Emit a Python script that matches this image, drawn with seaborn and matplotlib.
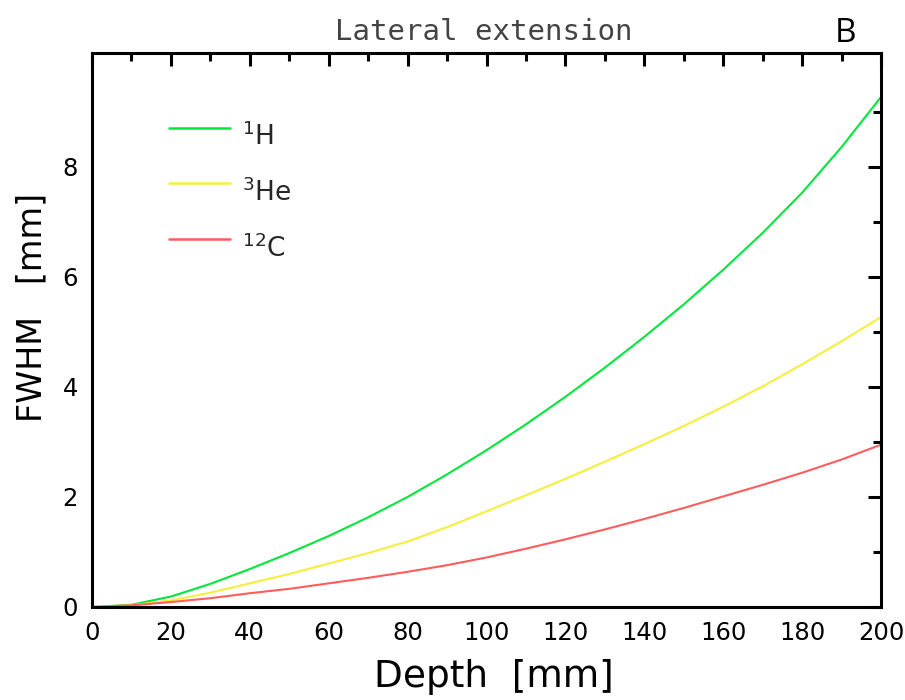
import numpy as np
import pandas as pd
import matplotlib
matplotlib.use("Agg")
import matplotlib.pyplot as plt
from matplotlib.ticker import MultipleLocator, FixedLocator
from matplotlib.lines import Line2D
import seaborn as sns

# Depth grid [mm] and lateral FWHM [mm] for each ion species
depth = [0, 10, 20, 30, 40, 50, 60, 70, 80, 90, 100,
         110, 120, 130, 140, 150, 160, 170, 180, 190, 200]
fwhm_h1 = [0.0, 0.04, 0.19, 0.42, 0.69, 0.98, 1.29, 1.63, 2.00, 2.41, 2.85,
           3.32, 3.82, 4.35, 4.91, 5.50, 6.13, 6.80, 7.53, 8.36, 9.27]
fwhm_he3 = [0.0, 0.03, 0.12, 0.26, 0.43, 0.60, 0.79, 0.98, 1.19, 1.45, 1.74,
            2.03, 2.33, 2.64, 2.96, 3.29, 3.64, 4.01, 4.41, 4.83, 5.27]
fwhm_c12 = [0.0, 0.03, 0.09, 0.16, 0.25, 0.33, 0.43, 0.53, 0.64, 0.76, 0.90,
            1.06, 1.23, 1.41, 1.60, 1.80, 2.01, 2.22, 2.44, 2.68, 2.95]

ions = ["1H", "3He", "12C"]
ion_labels = [r"$^{1}$H", r"$^{3}$He", r"$^{12}$C"]
ion_colors = ["#00e63c", "#f5ef3c", "#ff5c5c"]

df = pd.concat([
    pd.DataFrame({"depth": depth, "fwhm": vals, "ion": name})
    for name, vals in zip(ions, [fwhm_h1, fwhm_he3, fwhm_c12])
], ignore_index=True)

sns.set_style("white")
plt.rcParams["font.family"] = ["DejaVu Sans"]
plt.rcParams["mathtext.fontset"] = "dejavusans"

W, H = 905, 700
fig = plt.figure(figsize=(W / 100, H / 100), dpi=100)
x0, x1, y0, y1 = 92, 881, 53, 607
ax = fig.add_axes([x0 / W, 1 - y1 / H, (x1 - x0) / W, (y1 - y0) / H])

sns.lineplot(data=df, x="depth", y="fwhm", hue="ion", hue_order=ions,
             palette=dict(zip(ions, ion_colors)), linewidth=1.5,
             legend=False, ax=ax)

ax.set_xlim(0, 200)
ax.set_ylim(0, 10.07)
ax.xaxis.set_major_locator(MultipleLocator(20))
ax.xaxis.set_minor_locator(MultipleLocator(10))
ax.yaxis.set_major_locator(FixedLocator([0, 2, 4, 6, 8]))
ax.yaxis.set_minor_locator(FixedLocator([1, 3, 5, 7, 9]))

for sp in ax.spines.values():
    sp.set_visible(True)
    sp.set_linewidth(2.2)
    sp.set_color("black")

ax.tick_params(which="both", direction="in", top=True, right=True,
               color="black", width=2.2)
ax.tick_params(which="major", length=9.5, labelsize=17.5, labelcolor="black")
ax.tick_params(axis="x", which="major", pad=10)
ax.tick_params(axis="y", which="major", pad=10)
ax.tick_params(which="minor", length=5.5)

ax.set_xlabel("Depth  [mm]", fontsize=27, va="center", color="black")
ax.xaxis.set_label_coords((494 - x0) / (x1 - x0), -(677 - y1) / (y1 - y0))
ax.set_ylabel("FWHM   [mm]", fontsize=24, va="center", color="black")
ax.yaxis.set_label_coords((32 - x0) / (x1 - x0), (y1 - 307) / (y1 - y0))

fig.text(484 / W, 1 - 32 / H, "Lateral extension", family="DejaVu Sans Mono",
         fontsize=21, color="#444444", ha="center", va="center")
fig.text(845 / W, 1 - 33 / H, "B", family="Open Sans", fontsize=24,
         color="black", ha="center", va="center")

handles = [Line2D([], [], color=c, linewidth=1.8) for c in ion_colors]
ax.legend(handles, ion_labels, loc="upper left",
          bbox_to_anchor=((169 - x0) / (x1 - x0), (y1 - 110) / (y1 - y0)),
          frameon=False, fontsize=19, handlelength=2.3, handletextpad=0.45,
          handleheight=2.8, labelspacing=0.05, borderpad=0, borderaxespad=0)

fig.savefig("out.png", dpi=100)
